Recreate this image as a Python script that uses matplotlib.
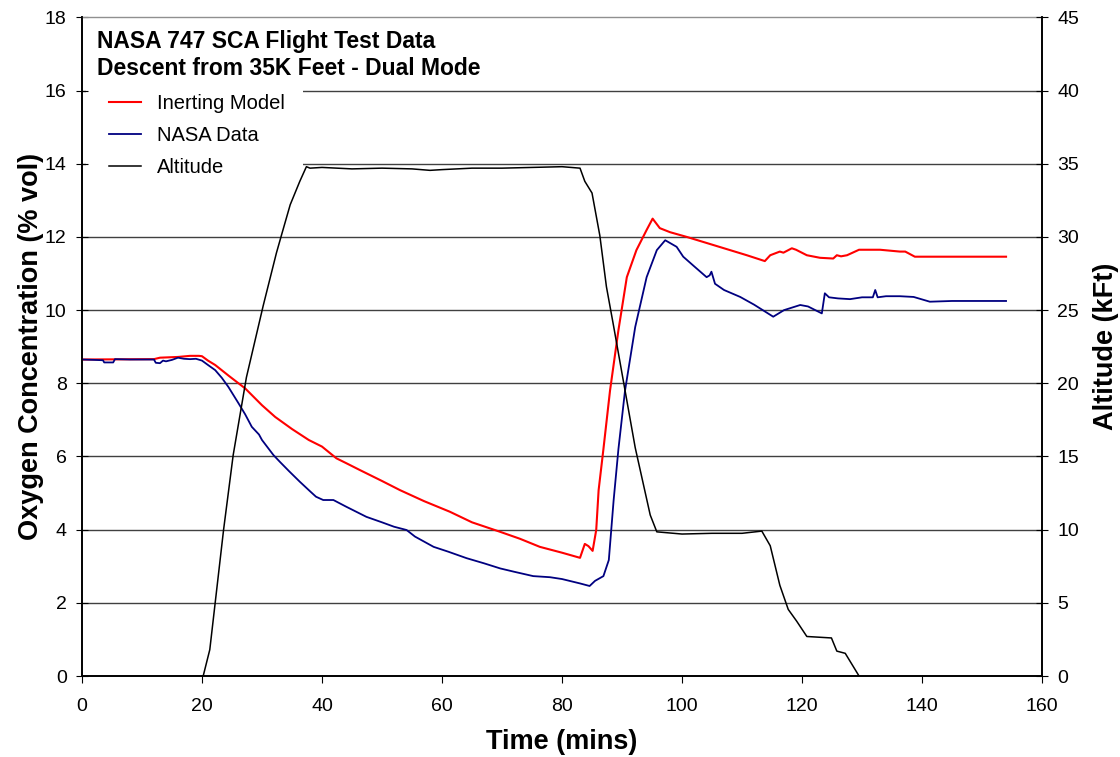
import matplotlib
matplotlib.use('Agg')
import matplotlib.pyplot as plt
from matplotlib.patches import Rectangle

plt.rcParams['font.family'] = ['Liberation Sans', 'DejaVu Sans']

# Inerting model (red), O2 % vol
model_t = [0, 12, 13, 16, 18, 19.5, 20, 21, 22.2, 24.5, 27.2, 30, 32.2, 35, 37.8, 40,
           42.4, 44, 46.3, 50, 53, 57, 61.3, 65, 69.7, 73, 76.3, 80, 83, 83.8, 84.4,
           85.1, 85.7, 86.1, 86.9, 88, 89.4, 90.8, 92.4, 94.1, 95.1, 96.3, 98, 100.8,
           105.2, 110.8, 113.8, 114.7, 116.3, 116.9, 118.3, 119, 120.8, 123, 125.2,
           125.8, 126.5, 127.5, 129.5, 133, 136.3, 137.2, 138.8, 145, 154]
model_o2 = [8.65, 8.66, 8.7, 8.72, 8.75, 8.75, 8.74, 8.62, 8.5, 8.2, 7.86, 7.4, 7.08, 6.75,
            6.45, 6.27, 5.95, 5.82, 5.63, 5.33, 5.08, 4.78, 4.49, 4.2, 3.94, 3.75, 3.53,
            3.37, 3.23, 3.61, 3.55, 3.42, 3.99, 5.08, 6.2, 7.8, 9.45, 10.9, 11.64, 12.19,
            12.5, 12.24, 12.13, 12.0, 11.78, 11.5, 11.34, 11.5, 11.6, 11.57, 11.69, 11.65,
            11.5, 11.43, 11.41, 11.5, 11.47, 11.5, 11.65, 11.65, 11.6, 11.6, 11.46, 11.46,
            11.46]

# NASA flight data (navy), O2 % vol
nasa_t = [0, 2, 3.5, 3.7, 5.2, 5.5, 8, 12, 12.3, 13, 13.5, 14, 15, 16, 17, 18, 19, 20, 21,
          22.2, 23.3, 24.4, 26.1, 27.2, 28.3, 29.5, 30, 31.9, 33, 34.5, 36.3, 38, 39, 40.2,
          41.9, 44, 47.4, 50, 52, 54.1, 55.5, 58.6, 61, 64.1, 67, 69.7, 72, 75.2, 78, 80,
          83, 84.6, 85.5, 86.9, 87.8, 88.6, 89.4, 90.5, 92.2, 94.1, 95.8, 97.2, 99.1,
          100.2, 102, 104.1, 104.6, 104.9, 105.5, 107, 109.7, 112, 115.2, 117, 119.7, 121,
          123.3, 123.8, 124.5, 126, 128, 130, 131.8, 132.2, 132.6, 134, 136.3, 138.6,
          141.3, 145, 150, 154]
nasa_o2 = [8.65, 8.64, 8.63, 8.57, 8.57, 8.66, 8.65, 8.65, 8.56, 8.55, 8.62, 8.6, 8.64, 8.7,
           8.67, 8.66, 8.67, 8.62, 8.5, 8.36, 8.15, 7.9, 7.45, 7.15, 6.81, 6.6, 6.45, 6.04,
           5.85, 5.6, 5.31, 5.05, 4.9, 4.81, 4.81, 4.63, 4.35, 4.2, 4.08, 3.99, 3.81, 3.53,
           3.4, 3.22, 3.08, 2.94, 2.85, 2.73, 2.7, 2.65, 2.53, 2.46, 2.6, 2.73, 3.17, 4.8,
           6.2, 7.8, 9.54, 10.9, 11.64, 11.91, 11.73, 11.46, 11.2, 10.9, 10.95, 11.05,
           10.72, 10.55, 10.36, 10.15, 9.82, 10.0, 10.14, 10.1, 9.91, 10.46, 10.35, 10.32,
           10.3, 10.35, 10.35, 10.55, 10.35, 10.38, 10.38, 10.36, 10.23, 10.25, 10.25,
           10.25]

# Altitude (black), kFt
alt_t = [20.2, 21.3, 23.6, 25.2, 27.4, 28.6, 30.2, 32.4, 33.3, 34.7, 36.3, 37.4, 38, 40,
         45, 50, 55, 58, 60, 65, 70, 75, 80, 83, 83.8, 85, 86.3, 87.4, 88.6, 92.2, 94.7,
         95.8, 100, 105, 110, 113.3, 114.7, 116.3, 117.7, 119.1, 120.8, 124.9, 125.8,
         127.2, 129.5]
alt_kft = [0, 1.8, 10, 15.1, 20.4, 22.5, 25.3, 28.9, 30.2, 32.2, 33.8, 34.8, 34.7, 34.75,
           34.65, 34.7, 34.65, 34.55, 34.6, 34.7, 34.7, 34.75, 34.8, 34.7, 33.8, 33.0,
           30.1, 26.6, 23.9, 15.6, 11.0, 9.85, 9.7, 9.75, 9.75, 9.9, 8.9, 6.2, 4.55, 3.75,
           2.7, 2.6, 1.7, 1.55, 0]

x_ticks = list(range(0, 161, 20))
o2_ticks = list(range(0, 19, 2))
alt_ticks = list(range(0, 46, 5))

fig = plt.figure(figsize=(11.2, 7.57), dpi=100)
ax = fig.add_axes([0.0732, 0.107, 0.8572, 0.870])
ax2 = ax.twinx()

ax.set_xlim(0, 160)
ax.set_ylim(0, 18)
ax2.set_ylim(0, 45)
ax.set_xticks(x_ticks)
ax.set_yticks(o2_ticks)
ax2.set_yticks(alt_ticks)

# horizontal grid lines (none at the top)
for v in o2_ticks[1:-1]:
    ax.axhline(v, color='#404040', lw=1.0, zorder=0)

# white block behind the legend hides the grid there
ax.add_patch(Rectangle((0.004, 0.745), 0.226, 0.148, transform=ax.transAxes,
                       facecolor='white', edgecolor='none', zorder=1))

l1, = ax.plot(model_t, model_o2, color='#ff0000', lw=1.5, label='Inerting Model', zorder=3)
l2, = ax.plot(nasa_t, nasa_o2, color='#000080', lw=1.3, label='NASA Data', zorder=3)
l3, = ax2.plot(alt_t, alt_kft, color='black', lw=1.1, label='Altitude')

for a in (ax, ax2):
    for s in a.spines.values():
        s.set_linewidth(1.2)
ax2.spines['top'].set_visible(False)
ax.spines['top'].set_color('#909090')
ax.spines['top'].set_linewidth(1.0)

ax.tick_params(axis='x', direction='out', length=5, labelsize=14, pad=11)
ax.tick_params(axis='y', direction='inout', length=8, labelsize=14, pad=7)
ax2.tick_params(axis='y', direction='inout', length=8, labelsize=14, pad=7)

ax.set_xlabel('Time (mins)', fontsize=19.5, fontweight='bold', labelpad=10)
ax.set_ylabel('Oxygen Concentration (% vol)', fontsize=19.5, fontweight='bold', labelpad=0.5)
ax2.set_ylabel('Altitude (kFt)', fontsize=19.5, fontweight='bold', labelpad=10)

ax2.text(0.016, 0.981, 'NASA 747 SCA Flight Test Data\nDescent from 35K Feet - Dual Mode',
         transform=ax.transAxes, ha='left', va='top', fontsize=16.5, fontweight='bold',
         linespacing=1.22)

leg = ax2.legend(handles=[l1, l2, l3], loc='upper left', bbox_to_anchor=(0.028, 0.884),
                 frameon=False, fontsize=14.5, handlelength=1.6, labelspacing=0.66,
                 borderpad=0, borderaxespad=0, handletextpad=0.8)

fig.savefig('out.png', dpi=100)
